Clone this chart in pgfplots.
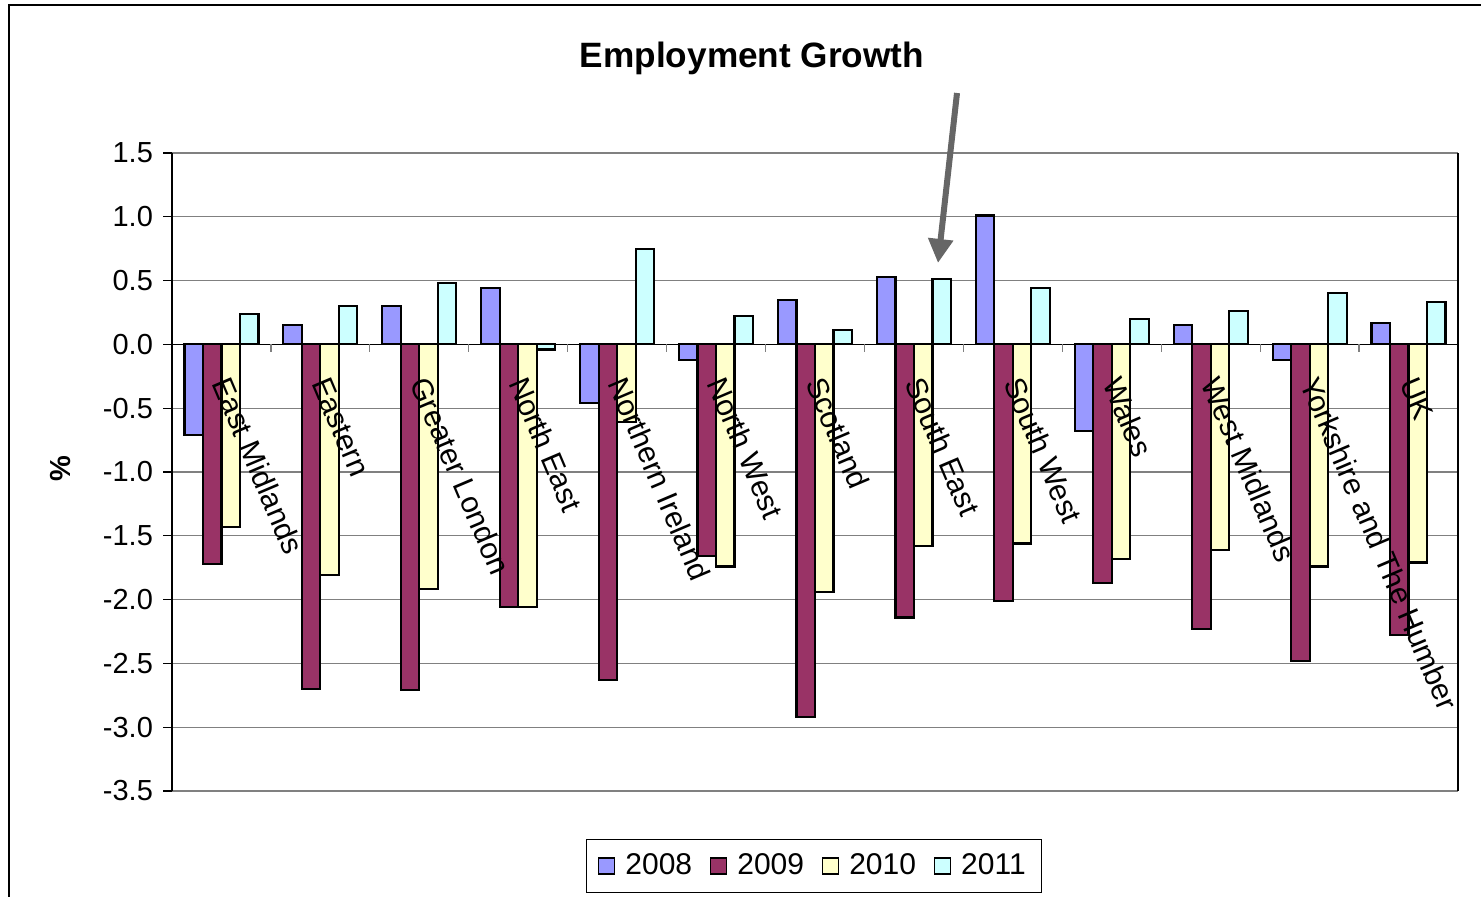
\documentclass[border=0pt]{standalone}
\usepackage{pgfplots}
\pgfplotsset{compat=1.18}
\usepackage{pgfplotstable}
\usetikzlibrary{arrows.meta}
\usepackage{fontspec}
\setmainfont{Liberation Sans}
\definecolor{cA}{HTML}{9999FF}
\definecolor{cB}{HTML}{993366}
\definecolor{cC}{HTML}{FFFFCC}
\definecolor{cD}{HTML}{CCFFFF}
\definecolor{gridc}{HTML}{808080}
\pgfplotstableread{
x y2008 y2009 y2010 y2011
0 -0.71 -1.72 -1.43 0.24
1 0.15 -2.70 -1.81 0.30
2 0.30 -2.71 -1.92 0.48
3 0.44 -2.06 -2.06 -0.04
4 -0.46 -2.63 -0.61 0.75
5 -0.12 -1.66 -1.74 0.22
6 0.35 -2.92 -1.94 0.11
7 0.53 -2.14 -1.58 0.51
8 1.01 -2.01 -1.56 0.44
9 -0.68 -1.87 -1.68 0.20
10 0.15 -2.23 -1.61 0.26
11 -0.12 -2.48 -1.74 0.40
12 0.17 -2.28 -1.71 0.33
}\datatable
\tikzset{catlab/.style={rotate=-67, anchor=west, inner sep=0pt, font=\fontsize{15}{18}\selectfont}}
\begin{document}
\begin{tikzpicture}[x=1pt,y=1pt]
\fontsize{14.5}{17}\selectfont
\path[use as bounding box] (0,0) rectangle (740.5,448.5);
\draw[line width=0.8pt] (4.5,0) -- (4.5,446) -- (740.5,446);
\node[font=\fontsize{17.6}{20}\selectfont\bfseries] at (376,419.5) {Employment Growth};
\begin{axis}[
  at={(86pt,53pt)}, anchor=south west,
  scale only axis, width=643pt, height=319pt,
  xmin=-0.5, xmax=12.5, ymin=-3.5, ymax=1.5,
  ytick={-3.5,-3,-2.5,-2,-1.5,-1,-0.5,0,0.5,1,1.5},
  ytick pos=left,
  yticklabel style={/pgf/number format/.cd, fixed, fixed zerofill, precision=1, assume math mode=true},
  xtick=\empty,
  ymajorgrids, grid style={gridc, line width=0.6pt},
  tick align=outside, major tick length=4.5pt,
  ytick style={black, line width=0.6pt},
  axis line style={gridc, line width=1pt},
  separate axis lines,
  y axis line style={black, line width=0.7pt},
  ylabel={\bfseries\%},
  ylabel style={at={(rel axis cs:-0.087,0.506)}, anchor=center},
  ybar=0pt, bar width=0.187,
  legend style={at={(0.4992,-0.1176)}, anchor=center, legend columns=4, draw=black, line width=0.6pt,
    inner xsep=6pt, inner ysep=5pt, font=\fontsize{15}{18}\selectfont,
    /tikz/every even column/.append style={column sep=7pt},
    /tikz/every odd column/.append style={column sep=3pt}},
  legend image code/.code={\draw[#1, line width=0.6pt] (0pt,-4pt) rectangle (8pt,4pt);},
  every axis plot/.append style={draw=black, line width=1.1pt},
  clip=false,
]
\addplot[fill=cA] table[x=x,y=y2008] {\datatable};
\addplot[fill=cB] table[x=x,y=y2009] {\datatable};
\addplot[fill=cC] table[x=x,y=y2010] {\datatable};
\addplot[fill=cD] table[x=x,y=y2011] {\datatable};
\legend{2008,2009,2010,2011}
\draw[black, line width=0.7pt] (axis cs:-0.5,0) -- (axis cs:12.5,0);
\draw[gridc, line width=0.6pt]
  (axis cs:0.5,0) -- (axis cs:0.5,-0.06)
  (axis cs:1.5,0) -- (axis cs:1.5,-0.06)
  (axis cs:2.5,0) -- (axis cs:2.5,-0.06)
  (axis cs:3.5,0) -- (axis cs:3.5,-0.06)
  (axis cs:4.5,0) -- (axis cs:4.5,-0.06)
  (axis cs:5.5,0) -- (axis cs:5.5,-0.06)
  (axis cs:6.5,0) -- (axis cs:6.5,-0.06)
  (axis cs:7.5,0) -- (axis cs:7.5,-0.06)
  (axis cs:8.5,0) -- (axis cs:8.5,-0.06)
  (axis cs:9.5,0) -- (axis cs:9.5,-0.06)
  (axis cs:10.5,0) -- (axis cs:10.5,-0.06)
  (axis cs:11.5,0) -- (axis cs:11.5,-0.06);
\node[catlab] at (axis cs:0,-0.27) {East Midlands};
\node[catlab] at (axis cs:1,-0.27) {Eastern};
\node[catlab] at (axis cs:2,-0.27) {Greater London};
\node[catlab] at (axis cs:3,-0.27) {North East};
\node[catlab] at (axis cs:4,-0.27) {Northern Ireland};
\node[catlab] at (axis cs:5,-0.27) {North West};
\node[catlab] at (axis cs:6,-0.27) {Scotland};
\node[catlab] at (axis cs:7,-0.27) {South East};
\node[catlab] at (axis cs:8,-0.27) {South West};
\node[catlab] at (axis cs:9,-0.27) {Wales};
\node[catlab] at (axis cs:10,-0.27) {West Midlands};
\node[catlab] at (axis cs:11,-0.27) {Yorkshire and The Humber};
\node[catlab] at (axis cs:12,-0.27) {UK};
\end{axis}
\draw[-{Triangle[length=12pt,width=12pt]}, line width=3pt, color=black!60] (478.5,402) -- (469,317);
\end{tikzpicture}
\end{document}
